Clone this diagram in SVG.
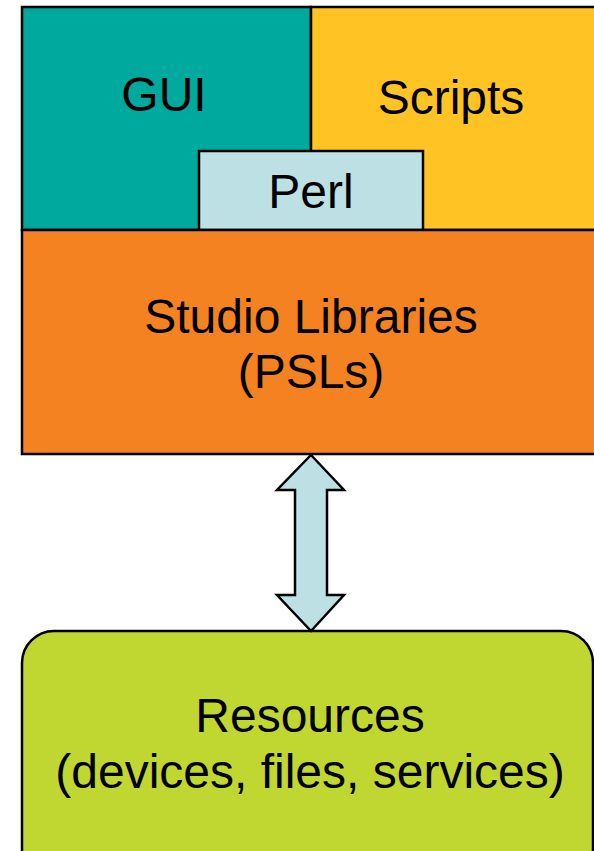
<svg xmlns="http://www.w3.org/2000/svg" width="594" height="851" viewBox="0 0 594 851">
<style>
.box{stroke:#000;stroke-width:2.5;stroke-linejoin:miter}
.t{font-family:"Liberation Sans",Arial,sans-serif;font-size:48px;fill:#000;text-anchor:middle}
</style>
<rect width="594" height="851" fill="#fff"/>
<g id="gui">
<rect class="box" x="22" y="7" width="289" height="223" fill="#00A99D"/>
<text class="t" x="164" y="111">GUI</text>
</g>
<g id="scripts">
<rect class="box" x="311" y="7" width="300" height="223" fill="#FFC423"/>
<text class="t" x="451" y="114">Scripts</text>
</g>
<g id="perl">
<rect class="box" x="199" y="151" width="224" height="79" fill="#BCE0E4"/>
<text class="t" x="311" y="208">Perl</text>
</g>
<g id="studio">
<rect class="box" x="22" y="230" width="590" height="224" fill="#F58220"/>
<text class="t" x="311" y="333">Studio Libraries</text>
<text class="t" x="311" y="388">(PSLs)</text>
</g>
<g id="resources">
<rect class="box" x="22" y="631" width="571" height="250" rx="32" ry="32" fill="#C0D731"/>
<text class="t" x="310" y="732">Resources</text>
<text class="t" x="310" y="788">(devices, files, services)</text>
</g>
<g id="connectors">
<polygon class="box" fill="#BCE0E4" points="311,455 344,490 327,490 327,595 344,595 311,631 277,595 295,595 295,490 277,490"/>
</g>
</svg>
